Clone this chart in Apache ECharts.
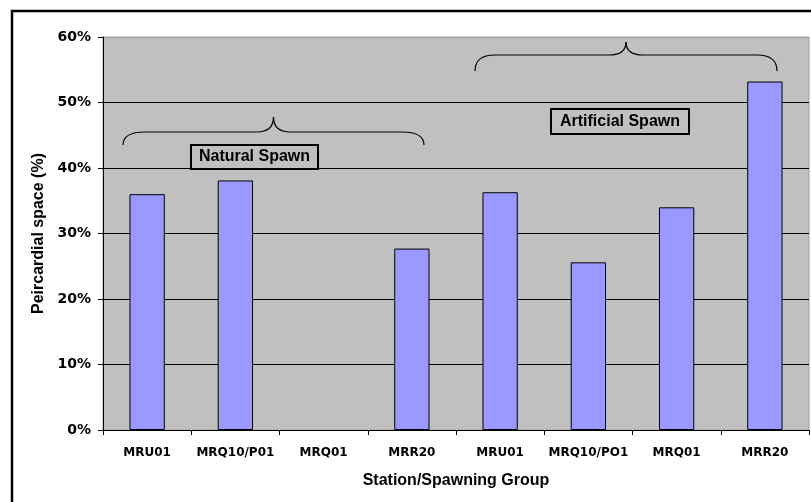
<!DOCTYPE html>
<html>
<head>
<meta charset="utf-8">
<script src="https://cdn.jsdelivr.net/npm/echarts@6/dist/echarts.min.js"></script>
<style>
  html, body { margin: 0; padding: 0; background: #fff; }
  #chart { width: 811px; height: 502px; }
</style>
</head>
<body>
<div id="chart"></div>
<script>
// Station / spawning group categories (natural spawn first, then artificial spawn)
const categories = ['MRU01', 'MRQ10/P01', 'MRQ01', 'MRR20', 'MRU01', 'MRQ10/PO1', 'MRQ01', 'MRR20'];
// Pericardial space, percent (no value for natural-spawn MRQ01)
const pericardialSpace = [36.0, 38.1, null, 27.7, 36.3, 25.6, 34.0, 53.2];
// Value axis settings
const yMin = 0;
const yMax = 60;
const yStep = 10;

const chart = echarts.init(document.getElementById('chart'), null, { renderer: 'canvas' });

const tickFont = 'DejaVu Sans';
const titleFont = 'Liberation Sans, Arial, sans-serif';

// Curly brace from (x0, yEnd) to (x1, yEnd), bar at yBar, tip at yTip
function brace(x0, x1, yEnd, yBar, yTip, r, t) {
  const xm = (x0 + x1) / 2;
  const st = { fill: null, stroke: '#000', lineWidth: 1.2 };
  const curve = (a, b, c, d, cx, cy) => ({
    type: 'bezierCurve', z: 100, silent: true, style: st,
    shape: { x1: a, y1: b, x2: c, y2: d, cpx1: cx, cpy1: cy }
  });
  const seg = (a, b, c, d) => ({
    type: 'line', z: 100, silent: true, style: st,
    shape: { x1: a, y1: b, x2: c, y2: d }
  });
  return {
    type: 'group',
    children: [
      curve(x0, yEnd, x0 + r, yBar, x0, yBar),
      seg(x0 + r, yBar, xm - t, yBar),
      curve(xm - t, yBar, xm, yTip, xm, yBar),
      curve(xm, yTip, xm + t, yBar, xm, yBar),
      seg(xm + t, yBar, x1 - r, yBar),
      curve(x1 - r, yBar, x1, yEnd, x1, yBar)
    ]
  };
}

function labelBox(x, y, w, h, text) {
  return {
    type: 'group',
    children: [
      { type: 'rect', z: 100, shape: { x: x, y: y, width: w, height: h },
        style: { fill: '#c0c0c0', stroke: '#000', lineWidth: 2 } },
      { type: 'text', z: 101, x: x + w / 2, y: y + h / 2,
        style: { text: text, fill: '#000', font: 'bold 16px ' + titleFont,
                 align: 'center', verticalAlign: 'middle' } }
    ]
  };
}

const option = {
  backgroundColor: '#ffffff',
  animation: false,
  grid: {
    left: 103, right: 2, top: 37, bottom: 72,
    show: true,
    backgroundColor: '#c0c0c0',
    borderColor: '#a0a0a0',
    borderWidth: 1
  },
  xAxis: {
    type: 'category',
    data: categories,
    boundaryGap: true,
    axisLine: { show: true, lineStyle: { color: '#000', width: 1 } },
    axisTick: { show: true, interval: 0, length: 5, alignWithLabel: false, lineStyle: { color: '#000' } },
    axisLabel: { interval: 0, margin: 17, color: '#000', fontFamily: tickFont, fontWeight: 'bold', fontSize: 12 },
    name: 'Station/Spawning Group',
    nameLocation: 'middle',
    nameGap: 43,
    nameTextStyle: { color: '#000', fontFamily: titleFont, fontWeight: 'bold', fontSize: 16 }
  },
  yAxis: {
    type: 'value',
    min: yMin, max: yMax, interval: yStep,
    axisLine: { show: true, lineStyle: { color: '#000', width: 1 } },
    axisTick: { show: true, length: 5, lineStyle: { color: '#000' } },
    axisLabel: { formatter: '{value}%', margin: 12, color: '#000', fontFamily: tickFont, fontWeight: 'bold', fontSize: 14 },
    splitLine: { show: true, lineStyle: { color: ['#000', '#000', '#000', '#000', '#000', '#000', '#a0a0a0'], width: 1 } },
    name: 'Peircardial space (%)',
    nameLocation: 'middle',
    nameGap: 54,
    nameTextStyle: { color: '#000', fontFamily: titleFont, fontWeight: 'bold', fontSize: 16 }
  },
  series: [{
    type: 'bar',
    data: pericardialSpace,
    barWidth: '40%',
    itemStyle: { color: '#9999ff', borderColor: '#000', borderWidth: 1 },
    z: 5
  }],
  graphic: [
    // outer frame
    { type: 'rect', z: 100, silent: true, shape: { x: 12, y: 11, width: 840, height: 540 },
      style: { fill: null, stroke: '#000', lineWidth: 2.5 } },
    // group braces
    brace(123, 424, 145, 132, 117, 22, 17),
    brace(475, 777, 71, 55, 42, 20, 17),
    labelBox(191, 145, 127, 24, 'Natural Spawn'),
    labelBox(551, 109, 138, 25, 'Artificial Spawn')
  ]
};

chart.setOption(option);
</script>
</body>
</html>
